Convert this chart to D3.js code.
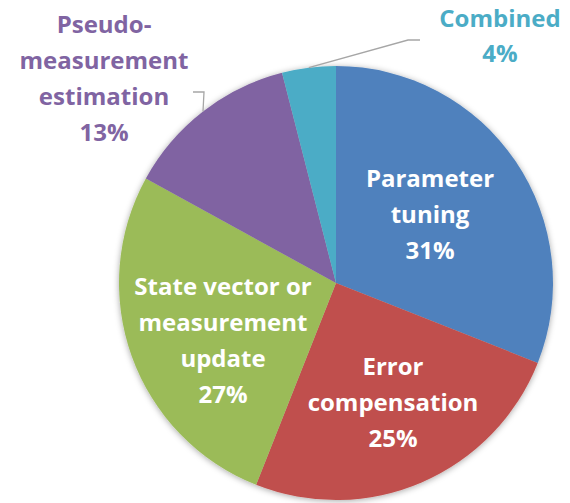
<!DOCTYPE html>
<html>
<head>
<meta charset="utf-8">
<script src="https://cdn.jsdelivr.net/npm/d3@7"></script>
<style>
  body { margin: 0; background: #fff; }
  text { font-family: "Open Sans", sans-serif; font-weight: 700; }
</style>
</head>
<body>
<div id="chart"></div>
<script>
const width = 570, height = 503;

// data
const categories = ["Parameter tuning", "Error compensation", "State vector or measurement update", "Pseudo-measurement estimation", "Combined"];
const values = [31, 25, 27, 13, 4];
const labelLines = [
    ["Parameter", "tuning", "31%"],
    ["Error", "compensation", "25%"],
    ["State vector or", "measurement", "update", "27%"],
    ["Pseudo-", "measurement", "estimation", "13%"],
    ["Combined", "4%"]
];
const colors = ["#4f81bd", "#c0504d", "#9bbb59", "#8064a2", "#4bacc6"];

// label layout (offset of first baseline from pie centre, inside or outside)
const labelLayout = [
    {dx: 94, dy: -96, fill: "#fff"},
    {dx: 57, dy: 92, fill: "#fff"},
    {dx: -113, dy: 12, fill: "#fff"},
    {dx: -232, dy: -250, fill: "#8064a2", elbow: [{dx: -132, dy: -191}, {dx: -143, dy: -191}]},
    {dx: 164, dy: -256, fill: "#4bacc6", spacing: 35, elbow: [{dx: 72, dy: -243}, {dx: 84, dy: -243}]}
];

const cx = 336, cy = 283, radius = 217;

let svg = d3.select("#chart")
    .append("svg")
    .attr("width", width)
    .attr("height", height);

let defs = svg.append("defs");
defs.append("filter")
    .attr("id", "shadow")
    .attr("x", "-10%").attr("y", "-10%")
    .attr("width", "120%").attr("height", "120%")
    .append("feDropShadow")
    .attr("dx", 0).attr("dy", 1)
    .attr("stdDeviation", 3)
    .attr("flood-color", "#000")
    .attr("flood-opacity", 0.35);

let g = svg.append("g")
    .attr("transform", `translate(${cx}, ${cy})`);

let pie = d3.pie().sort(null).value(d => d);
let arcs = pie(values);
let arc = d3.arc().innerRadius(0).outerRadius(radius);

g.append("g")
    .attr("filter", "url(#shadow)")
    .selectAll("path")
    .data(arcs)
    .enter()
    .append("path")
    .attr("d", arc)
    .attr("fill", (d, i) => colors[i]);

// leader lines for outside labels
arcs.forEach(function(d, i) {
    let lay = labelLayout[i];
    if (!lay.elbow) return;
    let mid = (d.startAngle + d.endAngle) / 2;
    let start = [radius * Math.sin(mid), -radius * Math.cos(mid)];
    let pts = [start].concat(lay.elbow.map(p => [p.dx, p.dy]));
    g.append("path")
        .attr("d", d3.line()(pts))
        .attr("fill", "none")
        .attr("stroke", "#a6a6a6")
        .attr("stroke-width", 1.3);
});

// labels
arcs.forEach(function(d, i) {
    let lay = labelLayout[i];
    let sp = lay.spacing || 36;
    let t = g.append("text")
        .attr("text-anchor", "middle")
        .style("font-size", "24px")
        .attr("fill", lay.fill);
    labelLines[i].forEach(function(line, j) {
        t.append("tspan")
            .attr("x", lay.dx)
            .attr("y", lay.dy + j * sp)
            .text(line);
    });
});
</script>
</body>
</html>
